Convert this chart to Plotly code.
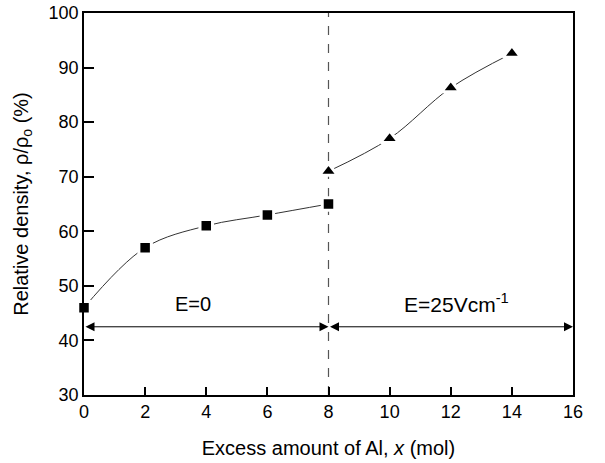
import plotly.graph_objects as go

x_sq = [0, 2, 4, 6, 8]
y_sq = [46, 57, 61, 63, 65]
x_tri = [8, 10, 12, 14]
y_tri = [71, 77, 86.3, 92.6]

x_ticks = [0, 2, 4, 6, 8, 10, 12, 14, 16]
y_ticks = [30, 40, 50, 60, 70, 80, 90, 100]

FONT = "Liberation Sans, Arial, sans-serif"

fig = go.Figure()
fig.add_trace(go.Scatter(
    x=x_sq, y=y_sq, mode="lines+markers",
    line=dict(shape="spline", color="#333333", width=1),
    marker=dict(symbol="square", size=12.5, color="black", line=dict(color="white", width=3)),
    cliponaxis=False, showlegend=False))
fig.add_trace(go.Scatter(
    x=x_tri, y=y_tri, mode="lines+markers",
    line=dict(shape="spline", color="#333333", width=1),
    marker=dict(symbol="triangle-up", size=15.5, color="black", line=dict(color="white", width=3)),
    cliponaxis=False, showlegend=False))

# vertical dashed line at x=8
fig.add_shape(type="line", x0=8, x1=8, y0=30, y1=100, xref="x", yref="y",
              line=dict(color="#555555", width=1.2, dash="dash"), layer="below")

arrow_y = 42.5
for x0, x1 in [(0, 8), (8, 16)]:
    fig.add_annotation(x=x1, y=arrow_y, ax=x0, ay=arrow_y, xref="x", yref="y",
                       axref="x", ayref="y", showarrow=True, arrowside="end+start",
                       arrowhead=2, arrowsize=1.8, arrowwidth=1, arrowcolor="black",
                       standoff=0, startstandoff=0, text="")

fig.add_annotation(x=3.57, y=46.7, xref="x", yref="y", text="E=0", showarrow=False,
                   font=dict(family=FONT, size=20, color="black"))
fig.add_annotation(x=12.2, y=46.9, xref="x", yref="y", text="E=25Vcm<sup>-1</sup>",
                   showarrow=False, font=dict(family=FONT, size=21, color="black"))

fig.update_layout(
    width=605, height=463,
    margin=dict(l=84, r=32, t=13, b=68, autoexpand=False),
    plot_bgcolor="white", paper_bgcolor="white",
    font=dict(family=FONT, size=18, color="black"),
)
fig.update_xaxes(range=[0, 16], tickvals=x_ticks, ticks="inside", ticklen=8, tickwidth=1.5,
                 tickcolor="black", showline=True, linecolor="black", linewidth=1.5, mirror=True,
                 showgrid=False, zeroline=False, automargin=False,
                 title=dict(text="Excess amount of Al, <i>x</i> (mol)", font=dict(size=20), standoff=20),
                 tickfont=dict(size=18))
fig.update_yaxes(range=[30, 100], tickvals=y_ticks, ticks="inside", ticklen=10, tickwidth=1.5,
                 tickcolor="black", showline=True, linecolor="black", linewidth=1.5, mirror=True,
                 showgrid=False, zeroline=False, automargin=False,
                 title=dict(text="Relative density, ρ/ρ<sub>o</sub> (%)", font=dict(size=20), standoff=15),
                 tickfont=dict(size=18))

fig.write_html("out.html")
